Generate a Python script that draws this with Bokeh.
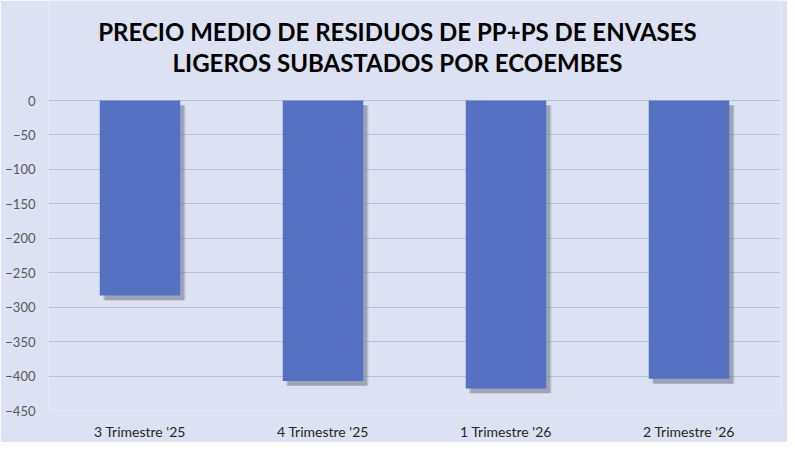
from bokeh.plotting import figure
from bokeh.models import Range1d, FactorRange, ColumnDataSource, FixedTicker, Label
from bokeh.transform import dodge
from bokeh.embed import file_html
from bokeh.resources import INLINE

categories = ["3 Trimestre '25", "4 Trimestre '25", "1 Trimestre '26", "2 Trimestre '26"]
values = [-283, -407, -418, -404]
y_ticks = [0, -50, -100, -150, -200, -250, -300, -350, -400, -450]
title_lines = ["PRECIO MEDIO DE RESIDUOS DE PP+PS DE ENVASES", "LIGEROS SUBASTADOS POR ECOEMBES"]

BG = "#DCE2F1"
BAR = "#5571C1"

# frame: 410 px tall, 310 px hold the 450 units of the axis, 100 px on top for the title
y_min = min(y_ticks)
y_top = -y_min * 100 / 310

shadow_shift = 7
src = ColumnDataSource(dict(
    cat=categories,
    val=values,
    stop=[-shadow_shift] * len(values),
    sbot=[v - shadow_shift for v in values],
))

p = figure(
    x_range=FactorRange(*categories, range_padding=0),
    y_range=Range1d(y_min, y_top),
    width=787, height=442,
    output_backend="svg", toolbar_location=None,
    min_border_left=48, min_border_right=7,
    min_border_top=0, min_border_bottom=32,
    background_fill_color=BG, border_fill_color=BG,
    outline_line_color=None,
)

for i, line in enumerate(title_lines):
    p.add_layout(Label(
        x=349, y=379 - 31 * i, x_units="screen", y_units="screen",
        text=line, text_align="center", text_baseline="alphabetic",
        text_font="Lato", text_font_style="bold", text_font_size="24px",
        text_color="#000000",
    ))

# shadow
p.vbar(x=dodge("cat", 0.028, range=p.x_range), top="stop", bottom="sbot", width=0.44,
       source=src, fill_color="#6b7086", fill_alpha=0.3, line_color=None)
p.vbar(x=dodge("cat", 0.02, range=p.x_range), top="stop", bottom="sbot", width=0.44,
       source=src, fill_color="#6b7086", fill_alpha=0.35, line_color=None)
p.vbar(x="cat", top=0, bottom="val", width=0.44, source=src,
       fill_color=BAR, line_color=None)

p.yaxis.ticker = FixedTicker(ticks=y_ticks)
p.ygrid.ticker = FixedTicker(ticks=y_ticks)
p.xgrid.grid_line_color = None
p.ygrid.grid_line_color = "#B7C1DE"
p.ygrid.grid_line_width = 1.2

for ax in (p.xaxis, p.yaxis):
    ax.axis_line_color = None
    ax.major_tick_line_color = None
    ax.minor_tick_line_color = None
    ax.major_tick_out = 0
    ax.major_tick_in = 0
    ax.major_label_text_font = "Lato"
    ax.major_label_text_font_size = "13px"

p.yaxis.major_label_text_color = "#595959"
p.yaxis.major_label_standoff = 13
p.xaxis.major_label_text_color = "#262626"
p.xaxis.major_label_text_font_size = "14px"
p.xaxis.major_label_standoff = 12

open("out.html", "w").write(file_html(p, INLINE))
